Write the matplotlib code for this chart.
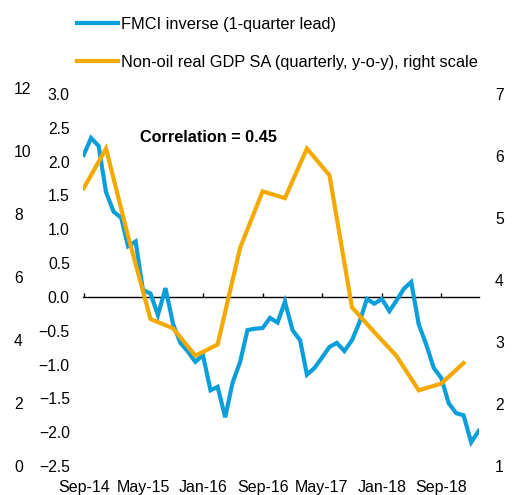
import pandas as pd
import matplotlib
matplotlib.use("Agg")
import matplotlib.pyplot as plt
import matplotlib.dates as mdates
from matplotlib.lines import Line2D

plt.rcParams['font.family'] = ['Liberation Sans', 'DejaVu Sans']
plt.rcParams['font.size'] = 11

BLUE = "#0A9FDA"
ORANGE = "#F4A900"

# FMCI inverse, monthly from Sep-14 (left scale)
fmci = [2.10, 2.35, 2.23, 1.55, 1.26, 1.17, 0.75, 0.82, 0.10, 0.05,
        -0.27, 0.13, -0.40, -0.68, -0.81, -0.96, -0.86, -1.38, -1.33, -1.78,
        -1.27, -0.96, -0.49, -0.47, -0.46, -0.31, -0.38, -0.07, -0.49, -0.64,
        -1.15, -1.05, -0.90, -0.74, -0.68, -0.80, -0.64, -0.38, -0.03, -0.10,
        -0.03, -0.21, -0.06, 0.12, 0.22, -0.41, -0.70, -1.05, -1.20, -1.57,
        -1.72, -1.75, -2.15, -1.98]

# Non-oil real GDP SA, quarterly y-o-y from Sep-14 (right scale)
gdp = [5.48, 6.12, 4.71, 3.37, 3.22, 2.78, 2.96, 4.52, 5.43, 5.32,
       6.12, 5.69, 3.56, 3.16, 2.78, 2.22, 2.33, 2.66]

fmci_dates = pd.date_range("2014-09-01", periods=len(fmci), freq="MS")
gdp_dates = pd.date_range("2014-09-01", periods=len(gdp), freq="3MS")
tick_dates = pd.date_range("2014-09-01", periods=7, freq="8MS")

left_ticks = [-2.5, -2.0, -1.5, -1.0, -0.5, 0.0, 0.5, 1.0, 1.5, 2.0, 2.5, 3.0]
right_ticks = [1, 2, 3, 4, 5, 6, 7]
outer_ticks = [0, 2, 4, 6, 8, 10, 12]

W, H = 517, 495
fig = plt.figure(figsize=(W / 100, H / 100), dpi=100)

left, right, bottom, top = 83, 479, 466, 94
ax = fig.add_axes([left / W, 1 - bottom / H, (right - left) / W, (bottom - top) / H])
ax.patch.set_alpha(0)

# far-left scale with no visible line
ax0 = fig.add_axes([9 / W, 1 - bottom / H, 0.0005, (bottom - 88) / H])
ax0.set_ylim(0, 12)
ax0.set_yticks(outer_ticks)
ax0.set_xticks([])
ax0.tick_params(axis="y", left=False, right=False, labelleft=False,
                labelright=True, pad=0, labelsize=11.3)
for s in ax0.spines.values():
    s.set_visible(False)
ax0.patch.set_alpha(0)

ax.plot(fmci_dates, fmci, color=BLUE, lw=3.0, solid_joinstyle="miter")
ax.set_ylim(-2.5, 3.0)
ax.set_yticks(left_ticks)
ax.set_xlim(pd.Timestamp("2014-08-29"), pd.Timestamp("2019-02-02"))
ax.set_xticks(tick_dates)
ax.xaxis.set_major_formatter(mdates.DateFormatter("%b-%y"))
ax.tick_params(axis="y", length=0, pad=9.5, labelsize=11.3)
ax.tick_params(axis="x", length=0, pad=10, labelsize=11.5)
for s in ax.spines.values():
    s.set_visible(False)

# zero line with upward ticks
zero_pos = (0 - (-2.5)) / (3.0 - (-2.5))
sec = ax.secondary_xaxis(zero_pos)
sec.set_xticks(tick_dates)
sec.tick_params(axis="x", direction="in", length=3, width=1, labelbottom=False)
sec.spines["bottom"].set_linewidth(1.0)

ax2 = ax.twinx()
ax2.plot(gdp_dates, gdp, color=ORANGE, lw=3.0, solid_joinstyle="miter")
ax2.set_ylim(1, 7)
ax2.set_yticks(right_ticks)
ax2.tick_params(axis="y", length=0, pad=11.5, labelsize=11.3)
for s in ax2.spines.values():
    s.set_visible(False)

ax.text(0.145, 0.883, "Correlation = 0.45", transform=ax.transAxes,
        fontweight="bold", fontsize=11.7, ha="left", va="center")

handles = [Line2D([], [], color=BLUE, lw=3.0),
           Line2D([], [], color=ORANGE, lw=3.0)]
labels = ["FMCI inverse (1-quarter lead)",
          "Non-oil real GDP SA (quarterly, y-o-y), right scale"]
fig.legend(handles, labels, loc="upper left", bbox_to_anchor=(77 / W, 1 - 16.5 / H),
           frameon=False, borderpad=0, borderaxespad=0, handlelength=2.5,
           handletextpad=0.18, labelspacing=1.42, fontsize=11.75)

fig.savefig("out.png", dpi=100)
